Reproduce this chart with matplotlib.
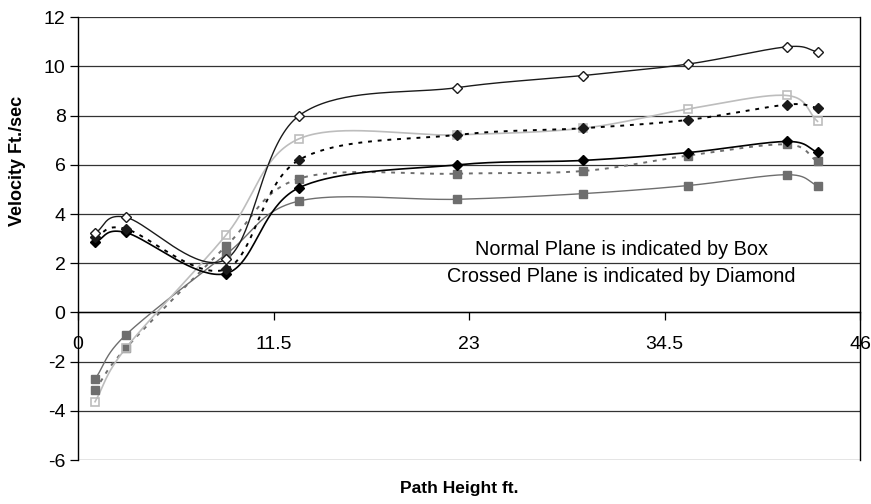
import numpy as np
import matplotlib
matplotlib.use("Agg")
import matplotlib.pyplot as plt

plt.rcParams['font.family'] = ['Liberation Sans', 'DejaVu Sans']

# Path heights (ft.) where velocity was measured
heights = [1.0, 2.8, 8.7, 13.0, 22.3, 29.7, 35.9, 41.7, 43.5]

# Velocity (ft./sec) for each run
crossed_open = [3.23, 3.87, 2.16, 8.0, 9.14, 9.63, 10.1, 10.8, 10.6]
normal_open = [-3.63, -1.46, 3.14, 7.06, 7.22, 7.49, 8.27, 8.82, 7.77]
crossed_dotted = [3.07, 3.40, 1.76, 6.2, 7.22, 7.49, 7.83, 8.45, 8.32]
crossed_solid = [2.86, 3.25, 1.58, 5.07, 6.0, 6.18, 6.5, 6.95, 6.52]
normal_dotted = [-3.15, -1.46, 2.69, 5.44, 5.64, 5.75, 6.38, 6.83, 6.14]
normal_solid = [-2.71, -0.92, 2.36, 4.53, 4.6, 4.83, 5.16, 5.6, 5.16]

x_ticks = [0, 11.5, 23, 34.5, 46]
x_tick_labels = ['0', '11.5', '23', '34.5', '46']
y_ticks = [-6, -4, -2, 0, 2, 4, 6, 8, 10, 12]


def smooth(xs, ys, n=40):
    """Catmull-Rom curve through the points (uniform, affine invariant)."""
    p = np.column_stack([xs, ys]).astype(float)
    p = np.vstack([2 * p[0] - p[1], p, 2 * p[-1] - p[-2]])
    out = []
    t = np.linspace(0, 1, n, endpoint=False)[:, None]
    for i in range(1, len(p) - 2):
        p0, p1, p2, p3 = p[i - 1], p[i], p[i + 1], p[i + 2]
        c1 = p1 + (p2 - p0) / 6.0
        c2 = p2 - (p3 - p1) / 6.0
        seg = ((1 - t) ** 3) * p1 + 3 * ((1 - t) ** 2) * t * c1 \
            + 3 * (1 - t) * t ** 2 * c2 + t ** 3 * p2
        out.append(seg)
    out.append(p[-2][None, :])
    c = np.vstack(out)
    return c[:, 0], c[:, 1]


fig = plt.figure(figsize=(8.71, 5.04), dpi=100)
ax = fig.add_axes([0.0896, 0.0873, 0.8978, 0.8784])

series = [
    (normal_solid, dict(color='#6e6e6e', ls='-', lw=1.0),
     dict(marker='s', ms=6, mfc='#6e6e6e', mec='#6e6e6e')),
    (normal_dotted, dict(color='#6e6e6e', ls=(0, (2, 3)), lw=1.4),
     dict(marker='s', ms=6, mfc='#6e6e6e', mec='#6e6e6e')),
    (normal_open, dict(color='#bdbdbd', ls='-', lw=1.2),
     dict(marker='s', ms=6, mfc='none', mec='#bdbdbd', mew=1.2)),
    (crossed_solid, dict(color='#000000', ls='-', lw=1.2),
     dict(marker='D', ms=5, mfc='#000000', mec='#000000')),
    (crossed_dotted, dict(color='#000000', ls=(0, (2, 3)), lw=1.4),
     dict(marker='D', ms=5, mfc='#1a1a1a', mec='#1a1a1a')),
    (crossed_open, dict(color='#1a1a1a', ls='-', lw=1.0),
     dict(marker='D', ms=5, mfc='white', mec='#1a1a1a', mew=1.0)),
]

for ys, line_kw, mark_kw in series:
    sx, sy = smooth(heights, ys)
    ax.plot(sx, sy, zorder=3, **line_kw)
    ax.plot(heights, ys, ls='none', zorder=4, **mark_kw)

ax.set_xlim(0, 46)
ax.set_ylim(-6, 12)
ax.set_xticks(x_ticks)
ax.set_xticklabels(x_tick_labels)
ax.set_yticks(y_ticks)
ax.set_yticklabels([str(v) for v in y_ticks])

for v in y_ticks:
    ax.axhline(v, color='#333333', lw=0.9, zorder=1)

ax.spines['bottom'].set_position(('data', 0))
ax.spines['bottom'].set_linewidth(1.0)
ax.spines['left'].set_linewidth(1.0)
ax.spines['right'].set_linewidth(1.0)
ax.spines['top'].set_visible(False)
ax.tick_params(axis='x', direction='out', length=6, width=0.9, pad=11, labelsize=14)
ax.tick_params(axis='y', direction='out', length=6, width=0.9, pad=3, labelsize=14)

fig.text(18 / 871, 1 - 161 / 504, 'Velocity Ft./sec', rotation=90, ha='center',
         va='center', fontsize=13, fontweight='bold')
fig.text(459 / 871, 1 - 489 / 504, 'Path Height ft.', ha='center', va='center',
         fontsize=12.5, fontweight='bold')

ax.text(31.95, 2.55, 'Normal Plane is indicated by Box', ha='center', va='center',
        fontsize=14.3, zorder=5)
ax.text(31.95, 1.45, 'Crossed Plane is indicated by Diamond', ha='center', va='center',
        fontsize=14.3, zorder=5)

fig.savefig('out.png', dpi=100)
